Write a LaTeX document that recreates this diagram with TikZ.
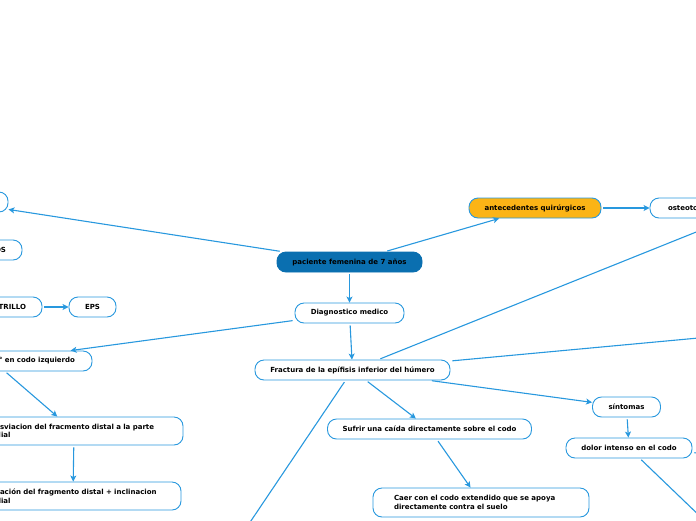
\documentclass[tikz,border=0pt]{standalone}
\usepackage{fontspec}
\setmainfont{DejaVu Sans}
\usetikzlibrary{arrows.meta}
\definecolor{lineblue}{RGB}{40,152,222}
\definecolor{rootblue}{RGB}{10,111,176}
\definecolor{orangefill}{RGB}{251,180,22}
\begin{document}
\begin{tikzpicture}[x=1pt,y=-1pt,
  box/.style={draw=lineblue, line width=0.9pt, rounded corners=9pt, fill=white, text=black,
    font=\fontsize{7}{8.5}\selectfont\bfseries, minimum height=20pt, inner sep=0pt, align=center},
  conn/.style={lineblue, line width=1.1pt, shorten <=2pt},
  arr/.style={conn, -{Stealth[length=6pt,width=6pt,inset=1.5pt]}}]
\useasboundingbox (0,0) rectangle (696,520);
\clip (0,0) rectangle (696,520);
% nodes
\node[box, fill=rootblue, draw=rootblue, minimum width=145pt] (root) at (349.5,262) {paciente femenina de 7 años};
\node[box, minimum width=109pt] (diag) at (349.5,313) {Diagnostico medico};
\node[box, minimum width=195pt] (frac) at (352.5,370) {Fractura de la epífisis inferior del húmero};
\node[box, fill=orangefill, minimum width=132pt] (ante) at (535,208) {antecedentes quirúrgicos};
\node[box, minimum width=80pt] (osteo) at (690,208) {\makebox[44pt][l]{osteotom}};
\node[box, minimum width=96pt] (lefta) at (-40,202) {};
\node[box, minimum width=124pt, text width=92pt, align=right] (os) at (-40,250) {OS};
\node[box, minimum width=164pt, text width=132pt, align=right] (trillo) at (-40,307) {TRILLO};
\node[box, minimum width=47pt] (eps) at (92.5,307) {EPS};
\node[box, minimum width=198pt, text width=164pt, align=right] (codo) at (-7,361) {° en codo izquierdo};
\node[box, minimum width=218pt, minimum height=28pt, text width=190pt, align=left] (desv) at (74,431)
  {\hspace*{21pt}sviacion del fracmento distal a la parte\\\hspace*{17pt}dial};
\node[box, minimum width=216pt, minimum height=28pt, text width=190pt, align=left] (rot) at (73,496)
  {\hspace*{22pt}ación del fragmento distal + inclinacion\\\hspace*{18pt}dial};
\node[box, minimum width=204pt] (sufrir) at (429.5,429) {Sufrir una caída directamente sobre el codo};
\node[box, minimum width=216pt, minimum height=29pt, text width=174pt, align=left] (caer) at (481,502.5)
  {Caer con el codo extendido que se apoya\\directamente contra el suelo};
\node[box, minimum width=68pt] (sint) at (626.5,407) {síntomas};
\node[box, minimum width=126pt] (dolor) at (629,448) {dolor intenso en el codo};
% off-canvas ends
\coordinate (offne) at (760,206.4);
\coordinate (offe) at (760,332.3);
\coordinate (offsw) at (230,552);
\coordinate (offse) at (730,545);
\coordinate (offde) at (760,457.5);
% connectors
\draw[arr] (root) -- (diag);
\draw[arr] (diag) -- (frac);
\draw[arr] (root) -- (lefta);
\draw[arr] (root) -- (ante);
\draw[arr] (ante) -- (osteo);
\draw[arr] (diag) -- (codo);
\draw[arr] (codo) -- (desv);
\draw[arr] (desv) -- (rot);
\draw[arr] (trillo) -- (eps);
\draw[arr] (frac) -- (sufrir);
\draw[arr] (sufrir) -- (caer);
\draw[arr] (frac) -- (sint);
\draw[arr] (sint) -- (dolor);
\draw[conn] (frac) -- (offne);
\draw[conn] (frac) -- (offe);
\draw[conn] (frac) -- (offsw);
\draw[conn] (dolor) -- (offse);
\draw[conn] (dolor) -- (offde);
\end{tikzpicture}
\end{document}
